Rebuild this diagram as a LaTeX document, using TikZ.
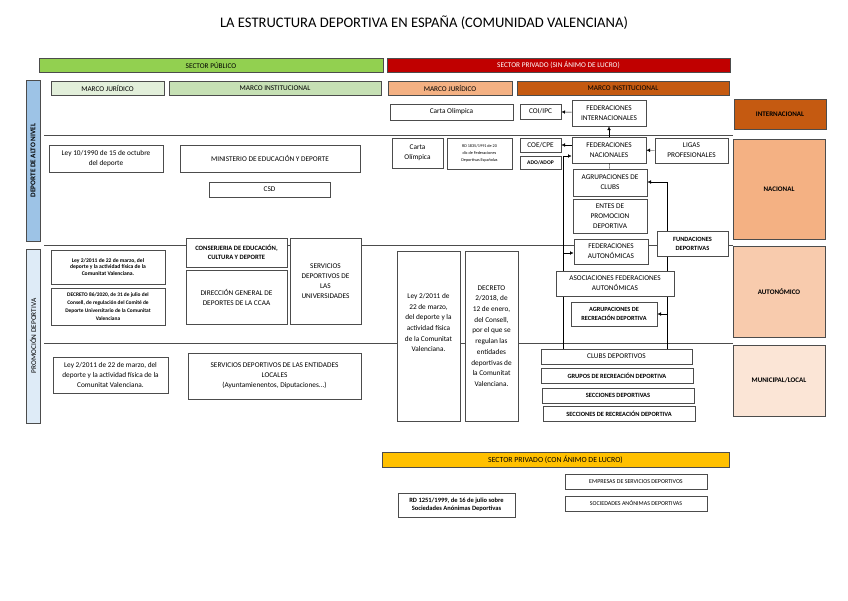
\documentclass[tikz,border=0pt]{standalone}
\usepackage{fontspec}
\setmainfont{Carlito}
\usetikzlibrary{arrows.meta}
\definecolor{verde}{HTML}{92D050}
\definecolor{rojo}{HTML}{C00000}
\definecolor{verdeclaro}{HTML}{E2EFDA}
\definecolor{verdemedio}{HTML}{C6E0B4}
\definecolor{salmon}{HTML}{F4B183}
\definecolor{naranja}{HTML}{C55A11}
\definecolor{azul}{HTML}{9DC3E6}
\definecolor{azulclaro}{HTML}{DEEBF7}
\definecolor{rosa}{HTML}{F8CBAD}
\definecolor{rosaclaro}{HTML}{FBE5D6}
\definecolor{amarillo}{HTML}{FFC000}
\tikzset{
  box/.style={draw=black!70, line width=1pt, fill=white, align=center,
    inner sep=1pt, font=\fontsize{7.3}{10}\selectfont},
  wh/.style 2 args={minimum width=#1pt, minimum height=#2pt},
  smallbold/.style={font=\fontsize{6.4}{8}\selectfont\bfseries},
  ambito/.style={font=\fontsize{7}{8}\selectfont\bfseries},
  divider/.style={draw=black!70, line width=0.7pt},
}
\begin{document}
\begin{tikzpicture}[x=1pt, y=-1pt, >={Latex[length=3.5pt,width=3.5pt]}]
  \useasboundingbox (0,0) rectangle (848,600);
  \node (title) at (424,23) {\fontsize{14.6}{16}\selectfont LA ESTRUCTURA DEPORTIVA EN ESPAÑA (COMUNIDAD VALENCIANA)};
  % franjas de nivel
  \draw [divider] (44,135) -- (733,135);
  \draw [divider] (44,245) -- (733,245);
  \draw [divider] (44,343) -- (733,343);
  % cabeceras
  \node [box, wh={344}{14}, fill=verde] (sp) at (211,65) {SECTOR PÚBLICO};
  \node [box, wh={343}{14}, fill=rojo, text=white] (spr) at (558.5,65) {SECTOR PRIVADO (SIN ÁNIMO DE LUCRO)};
  \node [box, wh={113}{14}, fill=verdeclaro] (mj1) at (107.5,88) {MARCO JURÍDICO};
  \node [box, wh={212}{14}, fill=verdemedio] (mi1) at (275,88) {MARCO INSTITUCIONAL};
  \node [box, wh={124}{14}, fill=salmon] (mj2) at (450,88) {MARCO JURÍDICO};
  \node [box, wh={212}{14}, fill=naranja] (mi2) at (623,88) {MARCO INSTITUCIONAL};
  \node [box, wh={161}{14}, fill=azul, rotate=90, font=\fontsize{7.2}{8}\selectfont\bfseries] (an) at (33,160.5) {DEPORTE DE ALTO NIVEL};
  \node [box, wh={174}{14}, fill=azulclaro, rotate=90] (pd) at (33,336) {PROMOCIÓN DEPORTIVA};
  % sector publico
  \node [box, wh={114}{27}] (ley1) at (106,158.5) {Ley 10/1990 de 15 de octubre\\del deporte};
  \node [box, wh={180}{27}] (min) at (270,158.5) {MINISTERIO DE EDUCACIÓN Y DEPORTE};
  \node [box, wh={121}{15}] (csd) at (269.5,189.5) {CSD};
  \node [box, wh={114}{34}, font=\fontsize{5.6}{6.7}\selectfont\bfseries] (ley2) at (108,267) {Ley 2/2011 de 22 de marzo, del\\deporte y la actividad física de la\\Comunitat Valenciana.};
  \node [box, wh={114}{37}, font=\fontsize{5.4}{7.8}\selectfont\bfseries] (dec86) at (108,306.5) {DECRETO 86/2020, de 31 de julio del\\Consell, de regulación del Comité de\\Deporte Universitario de la Comunitat\\Valenciana};
  \node [box, wh={101}{29}, font=\fontsize{6.6}{9}\selectfont\bfseries] (cons) at (236.5,252.5) {CONSERJERIA DE EDUCACIÓN,\\CULTURA Y DEPORTE};
  \node [box, wh={101}{54}] (dg) at (236.5,297) {DIRECCIÓN GENERAL DE\\DEPORTES DE LA CCAA};
  \node [box, wh={71}{86}] (univ) at (325.5,281) {SERVICIOS\\DEPORTIVOS DE\\LAS\\UNIVERSIDADES};
  \node [box, wh={115}{36}] (ley3) at (110.5,375) {Ley 2/2011 de 22 de marzo, del\\deporte y la actividad física de la\\Comunitat Valenciana.};
  \node [box, wh={173}{46}] (loc) at (274.5,376) {SERVICIOS DEPORTIVOS DE LAS ENTIDADES\\LOCALES\\(Ayuntamienentos, Diputaciones...)};
  % sector privado sin animo de lucro
  \coordinate (lt) at (563,156);
  \coordinate (la) at (563,253);
  \coordinate (rt) at (667,182);
  \coordinate (rr) at (667,314);
  \node [box, wh={123}{16}] (co1) at (451.5,112) {Carta Olímpica};
  \node [box, wh={41}{15}] (coi) at (540.5,111.5) {COI/IPC};
  \node [box, wh={74}{26}] (fi) at (609,113) {FEDERACIONES\\INTERNACIONALES};
  \node [box, wh={51}{30}] (co2) at (417.5,153) {Carta\\Olímpica};
  \node [box, wh={65}{31}, font=\fontsize{4.2}{6.8}\selectfont] (rd) at (479.5,153.5) {RD 1835/1991 de 20\\dic de Federaciones\\Deportivas Españolas};
  \node [box, wh={41}{14}] (coe) at (540.5,145) {COE/CPE};
  \node [box, wh={41}{13}, font=\fontsize{5.6}{6}\selectfont\bfseries] (ado) at (540.5,162.5) {ADO/ADOP};
  \node [box, wh={74}{26}] (fn) at (609,150) {FEDERACIONES\\NACIONALES};
  \node [box, wh={73}{25}] (ligas) at (691.5,150.5) {LIGAS\\PROFESIONALES};
  \node [box, wh={74}{27}] (ac) at (610,182.5) {AGRUPACIONES DE\\CLUBS};
  \node [box, wh={74}{34}] (entes) at (610,216) {ENTES DE\\PROMOCION\\DEPORTIVA};
  \node [box, wh={74}{25}] (fa) at (611,251.5) {FEDERACIONES\\AUTONÓMICAS};
  \node [box, wh={71}{25}, font=\fontsize{6.4}{9}\selectfont\bfseries] (fund) at (692.5,243.5) {FUNDACIONES\\DEPORTIVAS};
  \node [box, wh={151}{15}] (clubs) at (616.5,356.5) {CLUBS DEPORTIVOS};
  \draw (lt) -- (clubs.north -| lt);
  \draw (fund.south -| rt) -- (clubs.north -| rt);
  \draw [->] (fund.north -| rt) -- (rt) -- (rt -| ac.east);
  \node [box, wh={118}{25}] (asoc) at (615,283.5) {ASOCIACIONES FEDERACIONES\\AUTONÓMICAS};
  \node [box, wh={86}{24}, font=\fontsize{6.3}{8.5}\selectfont\bfseries] (ard) at (614,314) {AGRUPACIONES DE\\RECREACIÓN DEPORTIVA};
  \node [box, wh={63}{170}, font=\fontsize{7.3}{10.7}\selectfont] (ley4) at (428.5,336) {Ley 2/2011 de\\22 de marzo,\\del deporte y la\\actividad física\\de la Comunitat\\Valenciana.\\[16pt]~};
  \node [box, wh={53}{170}, font=\fontsize{7.3}{10.7}\selectfont] (dec18) at (491.5,336) {DECRETO\\2/2018, de\\12 de enero,\\del Consell,\\por el que se\\regulan las\\entidades\\deportivas de\\la Comunitat\\Valenciana.};
  \node [box, wh={152}{15}, smallbold] (grupos) at (617,375.5) {GRUPOS DE RECREACIÓN DEPORTIVA};
  \node [box, wh={152}{15}, smallbold] (secc) at (618,395.5) {SECCIONES DEPORTIVAS};
  \node [box, wh={152}{15}, smallbold] (secr) at (619,413.5) {SECCIONES DE RECREACIÓN DEPORTIVA};
  \draw [->] (fi) -- (coi);
  \draw [->] (fn) -- (fi);
  \draw [->] (fn.west |- coe) -- (coe);
  \draw [->] (ligas) -- (fn);
  \draw (fn) -- (ac);
  \draw [->] (lt) -- (lt -| fn.west);
  \draw [->] (la) -- (la -| fa.west);
  \draw [->] (rr) -- (rr -| ard.east);
  % ambitos
  \node [box, wh={92}{30}, fill=naranja, ambito] (int) at (780,114) {INTERNACIONAL};
  \node [box, wh={92}{100}, fill=salmon, ambito] (nac) at (779,189) {NACIONAL};
  \node [box, wh={92}{91}, fill=rosa, ambito] (aut) at (779,291.5) {AUTONÓMICO};
  \node [box, wh={92}{71}, fill=rosaclaro, ambito] (mun) at (779,380.5) {MUNICIPAL/LOCAL};
  % sector privado con animo de lucro
  \node [box, wh={347}{15}, fill=amarillo, font=\fontsize{7.8}{9}\selectfont] (scl) at (555.5,459.5) {SECTOR PRIVADO (CON ÁNIMO DE LUCRO)};
  \node [box, wh={142}{15}, font=\fontsize{6}{7}\selectfont] (emp) at (636,481.5) {EMPRESAS DE SERVICIOS DEPORTIVOS};
  \node [box, wh={142}{15}, font=\fontsize{6}{7}\selectfont] (sad) at (636,503.5) {SOCIEDADES ANÓNIMAS DEPORTIVAS};
  \node [box, wh={117}{24}, font=\fontsize{6.5}{8}\selectfont\bfseries] (rd2) at (456.5,505) {RD 1251/1999, de 16 de julio sobre\\Sociedades Anónimas Deportivas};
\end{tikzpicture}
\end{document}
